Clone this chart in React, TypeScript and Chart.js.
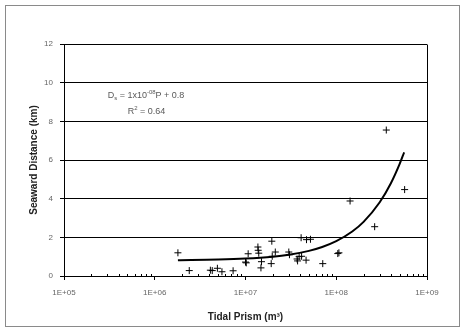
import React, { useEffect, useRef } from "react";
import { Chart, registerables } from "chart.js";

Chart.register(...registerables);

// Observed estuaries: tidal prism (m^3) vs seaward distance (km)
const prismX = [
  1.8e6, 2.4e6, 4.1e6, 4.3e6, 4.9e6, 5.5e6, 7.3e6,
  1.0e7, 1.02e7, 1.07e7,
  1.37e7, 1.38e7, 1.4e7, 1.5e7, 1.48e7,
  1.95e7, 1.92e7, 1.97e7, 2.13e7,
  3.0e7, 3.05e7,
  3.7e7, 3.75e7, 3.9e7, 4.15e7, 4.1e7, 4.7e7, 5.2e7, 4.65e7,
  7.1e7, 1.04e8, 1.07e8,
  1.42e8, 2.65e8, 3.56e8, 5.67e8,
];
const distanceY = [
  1.2, 0.28, 0.3, 0.28, 0.4, 0.22, 0.27,
  0.72, 0.68, 1.15,
  1.5, 1.33, 1.18, 0.74, 0.42,
  1.8, 0.64, 1.02, 1.24,
  1.24, 1.1,
  0.88, 0.78, 1.0, 1.02, 1.98, 1.88, 1.9, 0.82,
  0.64, 1.16, 1.2,
  3.88, 2.55, 7.55, 4.47,
];

// Trend line (Ds = 1x10^-08 P + 0.8)
const trendX = [1.8e6, 5e6, 1e7, 2e7, 3e7, 5e7, 7e7, 1e8, 1.5e8, 2e8, 3e8, 4e8, 5e8, 5.6e8];
const trendY = [0.82, 0.85, 0.9, 1.0, 1.1, 1.3, 1.5, 1.8, 2.3, 2.8, 3.8, 4.8, 5.8, 6.4];

const xTickValues = [1e5, 1e6, 1e7, 1e8, 1e9];
const xTickLabels = ["1E+05", "1E+06", "1E+07", "1E+08", "1E+09"];
const yMin = 0;
const yMax = 12;
const yStep = 2;

const xTitle = "Tidal Prism (m³)";
const yTitle = "Seaward Distance (km)";

const FONT = "'Liberation Sans', Arial, sans-serif";

const decorPlugin = {
  id: "decor",
  afterDraw(chart: any) {
    const ctx = chart.ctx;
    const { left, right, top, bottom } = chart.chartArea;
    const xs = chart.scales.x;
    ctx.save();
    // right border of plot
    ctx.strokeStyle = "#000";
    ctx.lineWidth = 1;
    ctx.beginPath();
    ctx.moveTo(Math.round(right) + 0.5, Math.round(top) + 0.5);
    ctx.lineTo(Math.round(right) + 0.5, Math.round(bottom) + 0.5);
    ctx.stroke();
    // minor log ticks
    ctx.beginPath();
    for (let e = 5; e < 9; e++) {
      for (let d = 2; d <= 9; d++) {
        const px = Math.round(xs.getPixelForValue(d * Math.pow(10, e))) + 0.5;
        ctx.moveTo(px, Math.round(bottom));
        ctx.lineTo(px, Math.round(bottom) - 2);
      }
    }
    ctx.stroke();

    // equation text
    ctx.fillStyle = "#595959";
    ctx.textBaseline = "alphabetic";
    ctx.textAlign = "left";
    const drawParts = (parts: any[], cx: number, baseY: number) => {
      let w = 0;
      for (const p of parts) {
        ctx.font = `${p.size}px ${FONT}`;
        w += ctx.measureText(p.t).width;
      }
      let x = cx - w / 2;
      for (const p of parts) {
        ctx.font = `${p.size}px ${FONT}`;
        ctx.fillText(p.t, x, baseY + (p.dy || 0));
        x += ctx.measureText(p.t).width;
      }
    };
    drawParts(
      [
        { t: "D", size: 9 },
        { t: "s", size: 6, dy: 2 },
        { t: " = 1x10", size: 9 },
        { t: "-08", size: 6, dy: -4 },
        { t: "P + 0.8", size: 9 },
      ],
      146,
      97.5
    );
    drawParts(
      [
        { t: "R", size: 9 },
        { t: "2", size: 6, dy: -4 },
        { t: " = 0.64", size: 9 },
      ],
      146.5,
      113.5
    );

    // outer frame
    ctx.strokeStyle = "#8a8a8a";
    ctx.strokeRect(5.5, 5.5, 454, 321);
    ctx.restore();
  },
};

export default function App() {
  const ref = useRef<HTMLCanvasElement>(null);

  useEffect(() => {
    if (!ref.current) return;
    const chart = new Chart(ref.current, {
      type: "scatter",
      data: {
        datasets: [
          {
            label: "Estuaries",
            data: prismX.map((x, i) => ({ x, y: distanceY[i] })),
            pointStyle: "cross",
            pointRadius: 3.5,
            pointBorderWidth: 1,
            borderColor: "#000",
            backgroundColor: "#000",
            showLine: false,
          },
          {
            label: "Trend",
            data: trendX.map((x, i) => ({ x, y: trendY[i] })),
            showLine: true,
            pointRadius: 0,
            borderColor: "#000",
            borderWidth: 2,
            cubicInterpolationMode: "monotone",
          },
        ],
      },
      options: {
        responsive: false,
        animation: false,
        layout: { padding: { top: 44, right: 37, bottom: 0, left: 0 } },
        plugins: {
          legend: { display: false },
          tooltip: { enabled: false },
        },
        scales: {
          x: {
            type: "logarithmic",
            min: 1e5,
            max: 1e9,
            afterFit: (s: any) => {
              s.height = 56;
            },
            afterBuildTicks: (s: any) => {
              s.ticks = xTickValues.map((v) => ({ value: v, major: true }));
            },
            ticks: {
              autoSkip: false,
              maxRotation: 0,
              padding: 8,
              color: "#666",
              font: { family: FONT, size: 8 },
              callback: (v: any) => {
                const i = xTickValues.indexOf(Number(v));
                return i >= 0 ? xTickLabels[i] : "";
              },
            },
            grid: {
              drawOnChartArea: false,
              drawTicks: true,
              tickLength: 4,
              color: "#000",
            },
            border: { display: true, color: "#000", width: 1 },
            title: {
              display: true,
              text: xTitle,
              color: "#222",
              font: { family: FONT, size: 10, weight: "bold" },
              padding: { top: 0, bottom: 9 },
            },
          },
          y: {
            min: yMin,
            max: yMax,
            afterFit: (s: any) => {
              s.width = 64;
            },
            ticks: {
              stepSize: yStep,
              padding: 7,
              color: "#666",
              font: { family: FONT, size: 8 },
            },
            grid: {
              color: "#000",
              lineWidth: 1,
              tickLength: 4,
            },
            border: { display: true, color: "#000", width: 1 },
            title: {
              display: true,
              text: yTitle,
              color: "#222",
              font: { family: FONT, size: 10, weight: "bold" },
              padding: { top: 28, bottom: 0 },
            },
          },
        },
      } as any,
      plugins: [decorPlugin],
    });
    return () => chart.destroy();
  }, []);

  return (
    <div style={{ position: "absolute", left: 0, top: 0, width: 464, height: 332, background: "#fff" }}>
      <canvas ref={ref} width={464} height={332} style={{ display: "block" }} />
    </div>
  );
}
